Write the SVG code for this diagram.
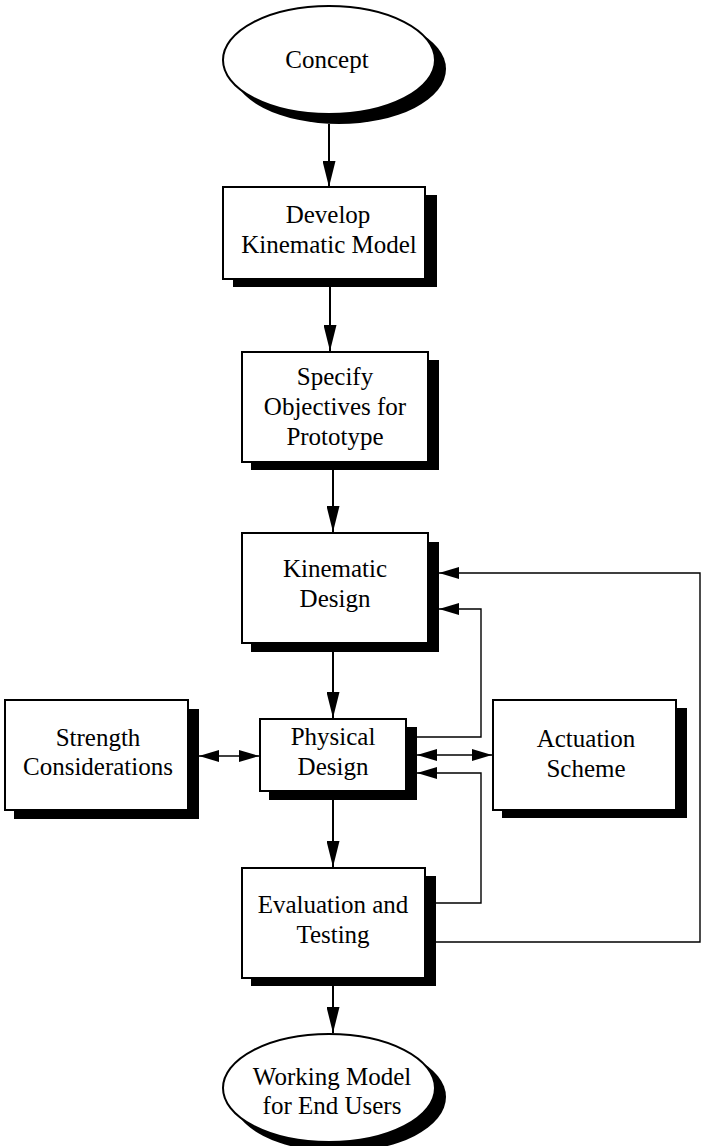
<svg xmlns="http://www.w3.org/2000/svg" width="702" height="1146" viewBox="0 0 702 1146">
<style>
.box{fill:#fff;stroke:#000;stroke-width:2}
.sh{fill:#000;stroke:none}
.t{font-family:"Liberation Serif","Times New Roman",serif;font-size:25px;fill:#000;text-anchor:middle}
.main{fill:none;stroke:#000;stroke-width:2;marker-end:url(#ah)}
.thin{fill:none;stroke:#000;stroke-width:1.4}
</style>
<defs>
<marker id="ah" markerUnits="userSpaceOnUse" markerWidth="26" markerHeight="13" refX="26" refY="6.5" orient="auto"><path d="M0,0 L26,6.5 L0,13 z" fill="#000"/></marker>
<marker id="at" markerUnits="userSpaceOnUse" markerWidth="20" markerHeight="12" refX="20" refY="6" orient="auto-start-reverse"><path d="M0,0 L20,6 L0,12 z" fill="#000"/></marker>
</defs>
<g id="connectors">
<path class="main" d="M329,124 V187"/>
<path class="main" d="M330,287 V351"/>
<path class="main" d="M333,470 V532"/>
<path class="main" d="M333,652 V718"/>
<path class="main" d="M333,800 V867"/>
<path class="main" d="M333,986 V1033"/>
<path class="thin" d="M436,942 H700 V573 H439" marker-end="url(#at)"/>
<path class="thin" d="M417,737 H481 V609 H439" marker-end="url(#at)"/>
<path class="thin" d="M436,903 H481 V773 H417" marker-end="url(#at)"/>
<path class="thin" d="M417,755 H492" marker-start="url(#at)" marker-end="url(#at)"/>
<path class="thin" d="M199,756 H259" marker-start="url(#at)" marker-end="url(#at)"/>
</g>
<g id="concept">
<ellipse class="sh" cx="339" cy="69" rx="107" ry="55"/>
<ellipse class="box" cx="329" cy="60" rx="106" ry="54"/>
<text class="t" x="327" y="68">Concept</text>
</g>
<g id="develop">
<rect class="sh" x="233" y="195" width="204" height="92"/>
<rect class="box" x="223" y="187" width="202" height="92"/>
<text class="t" x="328" y="223">Develop</text>
<text class="t" x="329" y="253">Kinematic Model</text>
</g>
<g id="specify">
<rect class="sh" x="251" y="360" width="188" height="110"/>
<rect class="box" x="242" y="352" width="186" height="110"/>
<text class="t" x="335" y="385">Specify</text>
<text class="t" x="335" y="415">Objectives for</text>
<text class="t" x="335" y="445">Prototype</text>
</g>
<g id="kinematic">
<rect class="sh" x="251" y="542" width="188" height="110"/>
<rect class="box" x="242" y="533" width="186" height="110"/>
<text class="t" x="335" y="577">Kinematic</text>
<text class="t" x="335" y="607">Design</text>
</g>
<g id="strength">
<rect class="sh" x="14" y="709" width="185" height="110"/>
<rect class="box" x="5" y="700" width="183" height="110"/>
<text class="t" x="98" y="746">Strength</text>
<text class="t" x="98" y="775">Considerations</text>
</g>
<g id="physical">
<rect class="sh" x="269" y="727" width="148" height="73"/>
<rect class="box" x="260" y="719" width="146" height="72"/>
<text class="t" x="333" y="745">Physical</text>
<text class="t" x="333" y="775">Design</text>
</g>
<g id="actuation">
<rect class="sh" x="502" y="708" width="185" height="110"/>
<rect class="box" x="493" y="700" width="183" height="110"/>
<text class="t" x="586" y="747">Actuation</text>
<text class="t" x="586" y="777">Scheme</text>
</g>
<g id="evaluation">
<rect class="sh" x="251" y="876" width="185" height="110"/>
<rect class="box" x="242" y="868" width="183" height="110"/>
<text class="t" x="333" y="913">Evaluation and</text>
<text class="t" x="333" y="943">Testing</text>
</g>
<g id="working">
<ellipse class="sh" cx="339" cy="1097" rx="107" ry="55"/>
<ellipse class="box" cx="329" cy="1088" rx="106" ry="54"/>
<text class="t" x="332" y="1085">Working Model</text>
<text class="t" x="332" y="1114">for End Users</text>
</g>
</svg>
